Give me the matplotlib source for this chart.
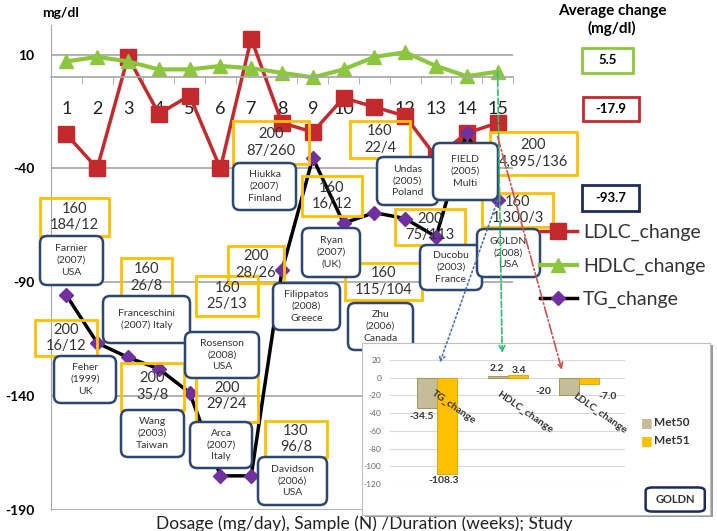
import matplotlib.pyplot as plt
from matplotlib.patches import Rectangle, FancyBboxPatch, ConnectionPatch

plt.rcParams['font.family'] = ['Lato', 'DejaVu Sans']
plt.rcParams['axes.unicode_minus'] = False

W, H = 717, 531

# main chart data (mg/dl change per study)
studies = list(range(1, 16))
ldlc = [-25, -40, 9, -16, -8, -40, 17, -20, -24, -9, -13, -17, -35, -24.5, -20]
hdlc = [7, 9, 7, 3.5, 3.5, 5, 4, 2, 0, 3.5, 9, 11, 5, 0.5, 2.5]
tg = [-95.7, -116.6, -123, -128, -138.5, -175, -175, -84.8, -35.4, -64,
      -59.4, -62, -70, -24.5, -54]
avg_labels = ['5.5', '-17.9', '-93.7']

dose_labels = ['160\n184/12', '200\n16/12', '160\n26/8', '160\n25/13', '200\n35/8',
               '200\n29/24', '130\n96/8', '200\n87/260', '200\n28/26', '160\n16/12',
               '160\n115/104', '160\n22/4', '200\n75/113', '200\n4,895/136',
               '160\n1,300/3']
study_labels = ['Farnier\n(2007)\nUSA', 'Feher\n(1999)\nUK', 'Franceschini\n(2007) Italy',
                'Rosenson\n(2008)\nUSA', 'Wang\n(2003)\nTaiwan', 'Arca\n(2007)\nItaly',
                'Davidson\n(2006)\nUSA', 'Hiukka\n(2007)\nFinland',
                'Filippatos\n(2008)\nGreece', 'Ryan\n(2007)\n(UK)', 'Zhu\n(2006)\nCanada',
                'Undas\n(2005)\nPoland', 'FIELD\n(2005)\nMulti', 'Ducobu\n(2003)\nFrance',
                'GOLDN\n(2008)\nUSA']

# GOLDN inset
goldn_groups = ['TG_change', 'HDLC_change', 'LDLC_change']
met50 = [-34.5, 2.2, -20]
met51 = [-108.3, 3.4, -7.0]

# box layout in pixels (x0, y0, x1, y1), y measured from top
dose_pos = [(40, 198, 109, 236), (35, 320, 97, 356), (121, 258, 172, 297),
            (196, 276, 258, 316), (121, 363, 184, 410), (196, 370, 258, 422),
            (265, 421, 327, 457), (233, 121, 309, 164), (228, 246, 284, 283),
            (302, 176, 362, 216), (345, 263, 422, 300), (350, 121, 410, 158),
            (395, 209, 465, 245), (490, 132, 577, 175), (482, 193, 553, 227)]
study_pos = [(40, 236, 103, 285), (54, 356, 116, 403), (103, 296, 190, 343),
             (185, 332, 259, 378), (121, 410, 184, 457), (190, 422, 252, 468),
             (258, 457, 327, 505), (233, 163, 296, 210), (273, 283, 340, 330),
             (302, 228, 360, 277), (348, 303, 413, 350), (377, 157, 438, 205),
             (433, 143, 498, 200), (420, 245, 482, 290), (477, 229, 540, 277)]

fig = plt.figure(figsize=(W / 100, H / 100), dpi=100)
inch = fig.dpi_scale_trans


def px(x, y):
    return x / 100, (H - y) / 100


ax = fig.add_axes([51 / W, 21 / H, 462 / W, 485 / H])
ax.plot(studies, ldlc, color='#C42A2D', lw=2.5, marker='s', ms=11, label='LDLC_change')
ax.plot(studies, hdlc, color='#8CC63F', lw=3, marker='^', ms=10, label='HDLC_change')
ax.plot(studies, tg, color='black', lw=2.5, marker='D', ms=7, mfc='#7030A0',
        mec='#7030A0', label='TG_change')
ax.set_xlim(0.5, 15.5)
ax.set_ylim(-190, 23)
ax.set_yticks([10, -40, -90, -140, -190])
ax.grid(axis='y', color='#A6A6A6', lw=1.2)
ax.set_axisbelow(True)
for s in ['top', 'right']:
    ax.spines[s].set_visible(False)
ax.spines['left'].set_color('#A6A6A6')
ax.spines['bottom'].set_color('#A6A6A6')
ax.spines['bottom'].set_linewidth(1.2)
ax.spines['bottom'].set_position(('data', 0))
ax.set_xticks(studies)
ax.set_xticks([s + 0.5 for s in studies[:-1]] + [0.5, 15.5], minor=True)
ax.tick_params(axis='x', which='major', length=0, pad=17, labelsize=13, labelcolor='#222')
ax.tick_params(axis='x', which='minor', length=5, color='#A6A6A6')
ax.tick_params(axis='y', length=0, pad=12, labelsize=10)
for t in ax.get_yticklabels():
    t.set_fontweight('bold')
ax.patch.set_alpha(0)

fig.text(*px(61, 13), 'mg/dl', transform=inch, ha='center', va='center',
         fontsize=10, fontweight='bold')
fig.text(*px(364, 524), 'Dosage (mg/day), Sample (N) /Duration (weeks); Study',
         transform=inch, ha='center', va='center', fontsize=12.5, color='#222')

# yellow dose / sample boxes
for lab, (x0, y0, x1, y1) in zip(dose_labels, dose_pos):
    fig.add_artist(Rectangle(px(x0, y1), (x1 - x0) / 100, (y1 - y0) / 100, transform=inch,
                             fill=False, ec='#FFC000', lw=2, zorder=2))
    fig.text(*px((x0 + x1) / 2, (y0 + y1) / 2), lab, transform=inch, ha='center',
             va='center', fontsize=10.5, color='#333', linespacing=1.25, zorder=3)

# blue study boxes
for lab, (x0, y0, x1, y1) in zip(study_labels, study_pos):
    fig.add_artist(FancyBboxPatch(px(x0, y1), (x1 - x0) / 100, (y1 - y0) / 100,
                                  boxstyle='round,pad=0,rounding_size=0.07', transform=inch,
                                  fc='white', ec='#2E4770', lw=1.8, zorder=2.5))
    fig.text(*px((x0 + x1) / 2, (y0 + y1) / 2), lab, transform=inch, ha='center',
             va='center', fontsize=7.5, color='#333', linespacing=1.4, zorder=3)

# legend
fig.legend(*ax.get_legend_handles_labels(), loc='center left',
           bbox_to_anchor=(540 / W, 1 - 266 / H), frameon=False, fontsize=14,
           handlelength=1.9, handletextpad=0.3, labelspacing=0.85, borderpad=0,
           borderaxespad=0, labelcolor='#333')

# average change column
fig.text(*px(612, 20), 'Average change\n(mg/dl)', transform=inch, ha='center',
         va='center', fontsize=11, fontweight='bold', linespacing=1.3)
for lab, col, (x0, y0, x1, y1) in zip(avg_labels, ['#8CC63F', '#C42A2D', '#1F2A5C'],
                                      [(582, 48, 633, 73), (583, 97, 639, 121),
                                       (582, 185, 639, 211)]):
    fig.add_artist(Rectangle(px(x0, y1), (x1 - x0) / 100, (y1 - y0) / 100, transform=inch,
                             fill=False, ec=col, lw=2))
    fig.text(*px((x0 + x1) / 2, (y0 + y1) / 2), lab, transform=inch, ha='center',
             va='center', fontsize=9.5, fontweight='bold')

# GOLDN inset: shadow, frame, bars
fig.add_artist(Rectangle(px(365, 517), 348 / 100, 172 / 100, transform=inch,
                         fc='#9A9A9A', ec='none', zorder=3.8))
frame = fig.add_axes([362 / W, 1 - 515 / H, 348 / W, 172 / H], zorder=4)
frame.set_xticks([])
frame.set_yticks([])
for s in frame.spines.values():
    s.set_color('#BFBFBF')
for yy, col, lab in [(0.54, '#C4BD97', 'Met50'), (0.435, '#FFC000', 'Met51')]:
    frame.text(0.8, yy, '■', color=col, fontsize=9, transform=frame.transAxes, va='center')
    frame.text(0.84, yy, lab, color='#333', fontsize=8.5, fontweight='bold',
               transform=frame.transAxes, va='center')
frame.add_patch(FancyBboxPatch((0.815, 0.02), 0.17, 0.14, transform=frame.transAxes,
                               boxstyle='round,pad=0,rounding_size=0.02', fc='white',
                               ec='#1F2A5C', lw=1.8))
frame.text(0.9, 0.09, 'GOLDN', transform=frame.transAxes, ha='center', va='center',
           fontsize=8, fontweight='bold', color='#333')

bx = fig.add_axes([390 / W, 1 - 484 / H, 235 / W, 124 / H], zorder=5)
bx.patch.set_alpha(0)
xs = range(len(goldn_groups))
bx.bar([x - 0.14 for x in xs], met50, width=0.28, color='#C4BD97', ec='#948A54', lw=0.6)
bx.bar([x + 0.14 for x in xs], met51, width=0.28, color='#FFC000', ec='#D9A000', lw=0.6)
bx.set_xlim(-0.66, 2.65)
bx.set_ylim(-120, 20)
bx.set_yticks(range(20, -121, -20))
bx.set_xticks([])
bx.grid(axis='y', color='#D9D9D9', lw=0.8)
bx.set_axisbelow(True)
for s in bx.spines.values():
    s.set_visible(False)
bx.tick_params(axis='y', length=0, labelsize=6, labelcolor='#666', pad=6)

# value labels (Met50 then Met51) and rotated category names
lab_kw = dict(ha='center', va='center', fontsize=7.5, fontweight='bold', color='#333')
met50_xy = [(-0.22, -9), (-0.15, 8), (1.5, 4)]
met51_xy = [(0.1, -8), (0.15, 5), (2.4, -14)]
for i in xs:
    bx.text(i + met50_xy[i][0] if i < 2 else met50_xy[i][0], met50[i] + met50_xy[i][1],
            f'{met50[i]:g}', **lab_kw)
    bx.text(i + met51_xy[i][0] if i < 2 else met51_xy[i][0], met51[i] + met51_xy[i][1],
            f'{met51[i]:.1f}', **lab_kw)
for i, (g, xx, yy) in enumerate(zip(goldn_groups, [0.23, 1.24, 2.3], [-33, -39, -40])):
    bx.text(xx, yy, g, rotation=-35, **lab_kw)

# dashed pointers from study 15 to the GOLDN bars
for yv, end, col, ls in [(tg[-1], (0.04, 17), '#4F6FB5', ':'),
                         (hdlc[-1], (0.92, 28), '#2DBF6E', '--'),
                         (ldlc[-1] - 6, (1.76, 9), '#D05050', '-.')]:
    cp = ConnectionPatch((15, yv), end, coordsA=ax.transData, coordsB=bx.transData,
                         color=col, ls=ls, lw=1.2, arrowstyle='->', mutation_scale=10,
                         zorder=6)
    fig.add_artist(cp)

fig.savefig('out.png', dpi=100)
